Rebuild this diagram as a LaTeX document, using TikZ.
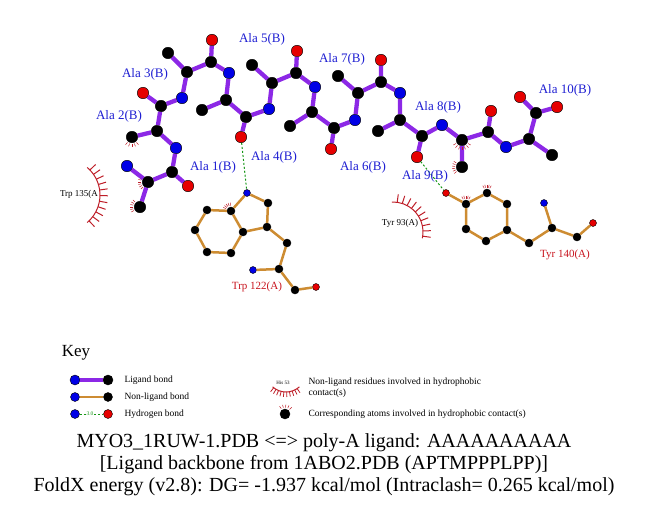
\documentclass[tikz,border=0pt]{standalone}
\usepackage{fontspec}
\setmainfont{Liberation Serif}

\definecolor{ligpurple}{RGB}{140,40,230}
\definecolor{bondorange}{RGB}{205,140,50}
\definecolor{nblue}{RGB}{0,0,230}
\definecolor{ored}{RGB}{230,0,0}
\definecolor{labblue}{RGB}{30,30,210}
\definecolor{resred}{RGB}{200,20,30}
\definecolor{hydred}{RGB}{190,30,40}
\definecolor{hbgreen}{RGB}{20,150,20}

\tikzset{
	atom/.style={circle, draw=black, line width=0.4pt, inner sep=0pt, minimum size=11.5pt},
	lc/.style={atom, fill=black},
	ln/.style={atom, fill=nblue},
	lo/.style={atom, fill=ored},
	pc/.style={atom, fill=black, minimum size=8pt},
	pn/.style={atom, fill=nblue, minimum size=7pt},
	po/.style={atom, fill=ored, minimum size=7pt},
	ligbond/.style={ligpurple, line width=4.3pt},
	protbond/.style={bondorange, line width=2.5pt},
	hbond/.style={hbgreen, line width=1pt, dash pattern=on 2pt off 2pt},
	liglabel/.style={text=labblue, font=\fontsize{13}{15}\selectfont},
	reslabel/.style={text=resred, font=\fontsize{11}{13}\selectfont},
	hyplabel/.style={text=black, font=\fontsize{9}{11}\selectfont},
	keytext/.style={anchor=west, align=left, font=\fontsize{9.5}{11}\selectfont},
	hydmark/.style={hydred, line width=0.5pt},
	hydarc/.style={hydred, line width=1pt},
}

% short red spikes round an atom: node, angles, inner and outer radius
\newcommand{\hphob}[4]{%
	\foreach \ang in {#2}
		\draw[hydmark] ([shift={(\ang:#3)}]#1.center) -- ([shift={(\ang:#4)}]#1.center);}

\begin{document}
\begin{tikzpicture}[x=1pt,y=-1pt]
		\useasboundingbox (0,0) rectangle (651,511);
		
		% ligand, Ala 1 to Ala 10
		\node[ln] (n1)  at (127,166) {};
		\node[lc] (ca1) at (148,182) {};
		\node[lc] (cb1) at (140,207) {};
		\node[lc] (c1)  at (172,172) {};
		\node[lo] (o1)  at (188,186) {};
		
		\node[ln] (n2)  at (176,148) {};
		\node[lc] (ca2) at (157,131) {};
		\node[lc] (cb2) at (132,137) {};
		\node[lc] (c2)  at (161,106) {};
		\node[lo] (o2)  at (143,93) {};
		
		\node[ln] (n3)  at (182,98) {};
		\node[lc] (ca3) at (187,72) {};
		\node[lc] (cb3) at (168,53) {};
		\node[lc] (c3)  at (211,62) {};
		\node[lo] (o3)  at (212,40) {};
		
		\node[ln] (n4)  at (229,73) {};
		\node[lc] (ca4) at (226,100) {};
		\node[lc] (cb4) at (202,110) {};
		\node[lc] (c4)  at (246,117) {};
		\node[lo] (o4)  at (241,137) {};
		
		\node[ln] (n5)  at (269,109) {};
		\node[lc] (ca5) at (272,83) {};
		\node[lc] (cb5) at (252,65) {};
		\node[lc] (c5)  at (296,73) {};
		\node[lo] (o5)  at (297,51) {};
		
		\node[ln] (n6)  at (315,87) {};
		\node[lc] (ca6) at (312,112) {};
		\node[lc] (cb6) at (290,126) {};
		\node[lc] (c6)  at (334,128) {};
		\node[lo] (o6)  at (331,149) {};
		
		\node[ln] (n7)  at (355,120) {};
		\node[lc] (ca7) at (358,93) {};
		\node[lc] (cb7) at (338,76) {};
		\node[lc] (c7)  at (381,82) {};
		\node[lo] (o7)  at (381,60) {};
		
		\node[ln] (n8)  at (400,93) {};
		\node[lc] (ca8) at (400,120) {};
		\node[lc] (cb8) at (378,131) {};
		\node[lc] (c8)  at (422,136) {};
		\node[lo] (o8)  at (417,157) {};
		
		\node[ln] (n9)  at (442,125) {};
		\node[lc] (ca9) at (462,140) {};
		\node[lc] (cb9) at (462,167) {};
		\node[lc] (c9)  at (488,132) {};
		\node[lo] (o9)  at (491,111) {};
		
		\node[ln] (n10)  at (506,147) {};
		\node[lc] (ca10) at (529,139) {};
		\node[lc] (cb10) at (552,155) {};
		\node[lc] (c10)  at (536,113) {};
		\node[lo] (o10)  at (520,97) {};
		\node[lo] (oxt)  at (557,107) {};
		
		\draw[ligbond] (n1) -- (ca1) (ca1) -- (cb1) (ca1) -- (c1) (c1) -- (o1) (c1) -- (n2);
		\draw[ligbond] (n2) -- (ca2) (ca2) -- (cb2) (ca2) -- (c2) (c2) -- (o2) (c2) -- (n3);
		\draw[ligbond] (n3) -- (ca3) (ca3) -- (cb3) (ca3) -- (c3) (c3) -- (o3) (c3) -- (n4);
		\draw[ligbond] (n4) -- (ca4) (ca4) -- (cb4) (ca4) -- (c4) (c4) -- (o4) (c4) -- (n5);
		\draw[ligbond] (n5) -- (ca5) (ca5) -- (cb5) (ca5) -- (c5) (c5) -- (o5) (c5) -- (n6);
		\draw[ligbond] (n6) -- (ca6) (ca6) -- (cb6) (ca6) -- (c6) (c6) -- (o6) (c6) -- (n7);
		\draw[ligbond] (n7) -- (ca7) (ca7) -- (cb7) (ca7) -- (c7) (c7) -- (o7) (c7) -- (n8);
		\draw[ligbond] (n8) -- (ca8) (ca8) -- (cb8) (ca8) -- (c8) (c8) -- (o8) (c8) -- (n9);
		\draw[ligbond] (n9) -- (ca9) (ca9) -- (cb9) (ca9) -- (c9) (c9) -- (o9) (c9) -- (n10);
		\draw[ligbond] (n10) -- (ca10) (ca10) -- (cb10) (ca10) -- (c10) (c10) -- (o10) (c10) -- (oxt);
		
		% Trp 122(A)
		\node[pn] (wne1) at (247,193) {};
		\node[pc] (wcd1) at (268,203) {};
		\node[pc] (wcg)  at (267,227) {};
		\node[pc] (wcd2) at (243,232) {};
		\node[pc] (wce2) at (231,211) {};
		\node[pc] (wcz2) at (207,210) {};
		\node[pc] (wch2) at (195,230) {};
		\node[pc] (wcz3) at (207,252) {};
		\node[pc] (wce3) at (231,253) {};
		\node[pc] (wcb)  at (287,243) {};
		\node[pc] (wca)  at (279,269) {};
		\node[pn] (wn)   at (253,270) {};
		\node[pc] (wc)   at (295,290) {};
		\node[po] (wo)   at (316,287) {};
		
		\draw[protbond] (wne1) -- (wcd1) -- (wcg) -- (wcd2) -- (wce2) -- (wne1);
		\draw[protbond] (wce2) -- (wcz2) -- (wch2) -- (wcz3) -- (wce3) -- (wcd2);
		\draw[protbond] (wcg) -- (wcb) -- (wca) -- (wc) -- (wo);
		\draw[protbond] (wca) -- (wn);
		
		% Tyr 140(A)
		\node[po] (yoh)  at (446,193) {};
		\node[pc] (ycz)  at (466,204) {};
		\node[pc] (yce1) at (487,193) {};
		\node[pc] (ycd1) at (507,204) {};
		\node[pc] (ycg)  at (507,230) {};
		\node[pc] (ycd2) at (486,241) {};
		\node[pc] (yce2) at (466,229) {};
		\node[pc] (ycb)  at (529,243) {};
		\node[pc] (yca)  at (552,228) {};
		\node[pn] (yn)   at (544,203) {};
		\node[pc] (yc)   at (577,237) {};
		\node[po] (yo)   at (593,223) {};
		
		\draw[protbond] (yoh) -- (ycz) -- (yce1) -- (ycd1) -- (ycg) -- (ycd2) -- (yce2) -- (ycz);
		\draw[protbond] (ycg) -- (ycb) -- (yca) -- (yc) -- (yo);
		\draw[protbond] (yca) -- (yn);
		
		% hydrogen bonds
		\draw[hbond] (o4) -- (wne1);
		\draw[hbond] (o8) -- (yoh);
		
		% hydrophobic contacts
		\hphob{cb2}{-130,-110,...,-50}{7pt}{10pt}
		\hphob{ca1}{165,180,...,225}{7pt}{10pt}
		\hphob{cb1}{135,150,...,210}{7pt}{10pt}
		\hphob{ca9}{-150,-130,...,-30}{7pt}{10pt}
		\hphob{cb9}{145,160,...,220}{7pt}{10pt}
		\hphob{wce2}{95,110,...,155}{5.5pt}{8.5pt}
		\hphob{ycz}{60,75,...,120}{5.5pt}{8.5pt}
		\hphob{yce1}{60,75,...,120}{5.5pt}{8.5pt}
		
		\coordinate (trp135) at (64,195);
		\draw[hydarc] ([shift={(-50:36pt)}]trp135) arc[start angle=-50, end angle=50, radius=36pt];
		\foreach \ang in {-46,-37,...,46}
			\draw[hydarc] ([shift={(\ang:36pt)}]trp135) -- ([shift={(\ang:44pt)}]trp135);
		
		\coordinate (tyr93) at (393,232);
		\draw[hydarc] ([shift={(-12:30pt)}]tyr93) arc[start angle=-12, end angle=92, radius=30pt];
		\foreach \ang in {-8,2,...,90}
			\draw[hydarc] ([shift={(\ang:30pt)}]tyr93) -- ([shift={(\ang:38pt)}]tyr93);
		
		% labels
		\node[liglabel] (l1)  at (213,167) {Ala 1(B)};
		\node[liglabel] (l2)  at (119,116) {Ala 2(B)};
		\node[liglabel] (l3)  at (145,74)  {Ala 3(B)};
		\node[liglabel] (l4)  at (274,157) {Ala 4(B)};
		\node[liglabel] (l5)  at (262,39)  {Ala 5(B)};
		\node[liglabel] (l6)  at (363,167) {Ala 6(B)};
		\node[liglabel] (l7)  at (342,59)  {Ala 7(B)};
		\node[liglabel] (l8)  at (438,107) {Ala 8(B)};
		\node[liglabel] (l9)  at (425,176) {Ala 9(B)};
		\node[liglabel] (l10) at (565,90)  {Ala 10(B)};
		
		\node[reslabel] (lw122) at (257,287) {Trp 122(A)};
		\node[reslabel] (ly140) at (565,255) {Tyr 140(A)};
		\node[hyplabel] (lw135) at (79,194)  {Trp 135(A};
		\node[hyplabel] (ly93)  at (400,223) {Tyr 93(A)};
		
		% key
		\node[font=\fontsize{17}{19}\selectfont] (key) at (76,353) {Key};
		
		\node[ln, minimum size=10pt] (kn1) at (75,380) {};
		\node[lc, minimum size=10pt] (kc1) at (108,380) {};
		\draw[ligbond] (kn1) -- (kc1);
		\node[keytext] (kt1) at (121,380) {Ligand bond};
		
		\node[ln, minimum size=9pt] (kn2) at (75,397) {};
		\node[lc, minimum size=9pt] (kc2) at (108,397) {};
		\draw[protbond] (kn2) -- (kc2);
		\node[keytext] (kt2) at (121,397) {Non-ligand bond};
		
		\node[ln, minimum size=9pt] (kn3) at (75,414) {};
		\node[lo, minimum size=9pt] (ko3) at (108,414) {};
		\node[text=hbgreen, font=\fontsize{5.5}{6}\selectfont, inner sep=0.5pt, fill=white] (kd3) at (90,414) {3.0};
		\draw[hbond] (kn3) -- (kd3) (kd3) -- (ko3);
		\node[keytext] (kt3) at (121,414) {Hydrogen bond};
		
		\coordinate (khyd) at (286,372);
		\node[font=\fontsize{5}{6}\selectfont, inner sep=0pt] (khis) at (283,383) {His 53};
		\draw[hydarc] ([shift={(-132:20pt)}]khyd) arc[start angle=-132, end angle=-48, radius=20pt];
		\foreach \ang in {-128,-120,...,-50}
			\draw[hydmark, line width=0.8pt] ([shift={(\ang:20pt)}]khyd) -- ([shift={(\ang:25pt)}]khyd);
		\node[keytext] (kt4) at (305,388) {Non-ligand residues involved in hydrophobic\\contact(s)};
		
		\node[lc, minimum size=10pt] (kc5) at (285,414) {};
		\hphob{kc5}{45,65,...,135}{6.5pt}{9.5pt}
		\node[keytext] (kt5) at (305,414) {Corresponding atoms involved in hydrophobic contact(s)};
		
		% title
		\node[align=center, font=\fontsize{20}{22}\selectfont] (title) at (324,465)
			{MYO3\_1RUW-1.PDB <=> poly-A ligand: AAAAAAAAAA\\
			 {[}Ligand backbone from 1ABO2.PDB (APTMPPPLPP)]\\
			 FoldX energy (v2.8): DG= -1.937 kcal/mol (Intraclash= 0.265 kcal/mol)};
\end{tikzpicture}
\end{document}
